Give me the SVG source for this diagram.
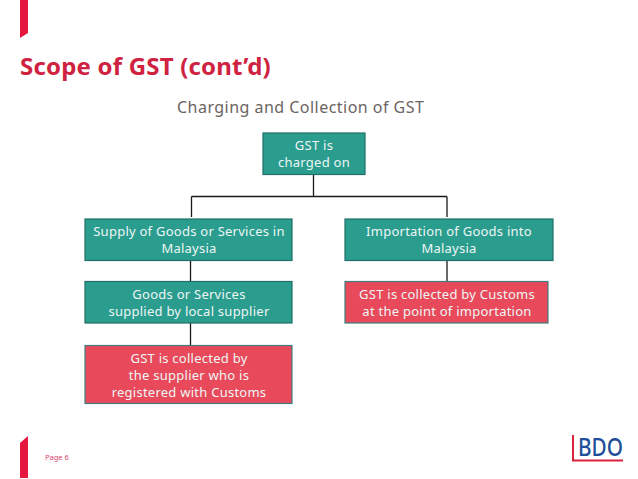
<svg xmlns="http://www.w3.org/2000/svg" width="638" height="479" viewBox="0 0 638 479">
<style>
text{font-family:"Noto Sans","DejaVu Sans",sans-serif}
.n text{font-size:13px;fill:#eef6f4;text-anchor:middle;letter-spacing:.25px}
.t{fill:#2a9d8f;stroke:#1f6f68;stroke-width:1.2}
.r{fill:#e84a5b;stroke:#3f7f7f;stroke-width:1.2}
.c{fill:none;stroke:#1a1a1a;stroke-width:1.3}
</style>
<rect width="638" height="479" fill="#fff"/>
<path d="M20 0H28V33L20 38Z" fill="#e5173f"/>
<path d="M20 443L28 436V478H20Z" fill="#e5173f"/>
<text x="20" y="75" font-size="24" font-weight="700" fill="#cf2140" letter-spacing=".2">Scope of GST (cont’d)</text>
<text x="177" y="113" font-size="16" fill="#6b6462" letter-spacing=".47">Charging and Collection of GST</text>
<g class="c" id="connectors">
<path d="M313.500 175V196.500M191.500 196.500H447M191.500 196.500V217M447 196.500V217"/>
<path d="M190.500 261V281M190.500 323V345M447 261V281"/>
</g>
<g class="n" id="n1"><rect class="t" x="263" y="133" width="102" height="41.500"/><text x="314" y="150">GST is</text><text x="314" y="167">charged on</text></g>
<g class="n" id="n2"><rect class="t" x="85" y="219" width="207" height="41.500"/><text x="189" y="236">Supply of Goods or Services in</text><text x="189" y="253">Malaysia</text></g>
<g class="n" id="n3"><rect class="t" x="345" y="219" width="208" height="41.500"/><text x="449" y="236">Importation of Goods into</text><text x="449" y="253">Malaysia</text></g>
<g class="n" id="n4"><rect class="t" x="85" y="281.500" width="207" height="41.500"/><text x="189" y="299">Goods or Services</text><text x="189" y="316">supplied by local supplier</text></g>
<g class="n" id="n5"><rect class="r" x="345" y="281.500" width="203" height="41.500"/><text x="447" y="299">GST is collected by Customs</text><text x="447" y="316">at the point of importation</text></g>
<g class="n" id="n6"><rect class="r" x="85" y="345.500" width="207" height="58"/><text x="189" y="363">GST is collected by</text><text x="189" y="380">the supplier who is</text><text x="189" y="397">registered with Customs</text></g>
<text x="45" y="460" font-size="7.500" fill="#d9476a">Page 6</text>
<g id="logo">
<path d="M573 435V460.500H623" fill="none" stroke="#d8233f" stroke-width="2"/>
<text x="578" y="456" font-size="25" font-weight="500" fill="#1f4f9a" textLength="45" lengthAdjust="spacingAndGlyphs">BDO</text>
</g>
</svg>
